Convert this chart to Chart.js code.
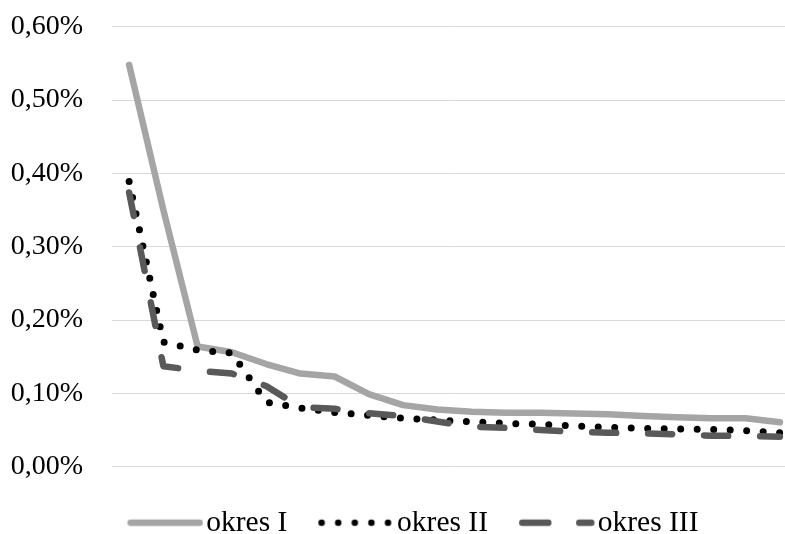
<!DOCTYPE html>
<html>
<head>
<meta charset="utf-8">
<script src="https://cdn.jsdelivr.net/npm/chart.js@4/dist/chart.umd.min.js"></script>
<style>
  html, body { margin: 0; padding: 0; background: #ffffff; overflow: hidden; }
  #wrap { width: 797px; height: 534px; }
</style>
</head>
<body>
<div id="wrap"><canvas id="c" width="797" height="534"></canvas></div>
<script>
// Categories (unlabelled positions along the horizontal axis)
const categories = ['1', '2', '3', '4', '5', '6', '7', '8', '9', '10',
                    '11', '12', '13', '14', '15', '16', '17', '18', '19', '20'];

// Series values, in percent
const okresI   = [0.548, 0.350, 0.164, 0.156, 0.140, 0.127, 0.123, 0.099, 0.084, 0.078,
                  0.075, 0.0736, 0.0736, 0.0727, 0.0714, 0.069, 0.0673, 0.066, 0.066, 0.0605];
const okresII  = [0.389, 0.170, 0.159, 0.155, 0.088, 0.080, 0.074, 0.070, 0.066, 0.0636,
                  0.0614, 0.059, 0.0578, 0.0555, 0.0537, 0.0523, 0.0514, 0.051, 0.049, 0.0464];
const okresIII = [0.374, 0.137, 0.131, 0.127, 0.110, 0.081, 0.079, 0.073, 0.069, 0.0616,
                  0.0546, 0.053, 0.050, 0.0477, 0.0464, 0.0455, 0.0441, 0.0423, 0.0418, 0.0409];

const seriesNames = ['okres I', 'okres II', 'okres III'];

// Y axis: 0,00% .. 0,60% in steps of 0,10%
const yMin = 0, yMax = 0.6, yStep = 0.1;
const fmtPct = v => v.toFixed(2).replace('.', ',') + '%';

Chart.defaults.font.family = "'Liberation Serif', 'Times New Roman', serif";
Chart.defaults.font.size = 28;
Chart.defaults.color = '#000000';

// line styles for the plot and for the legend samples
const styles = [
  { color: '#A5A5A5', width: 6.5, dash: [],        legendWidth: 6.5, legendDash: [],        order: 3 },
  { color: '#000000', width: 7,   dash: [0, 16.5], legendWidth: 6.5, legendDash: [0, 16.6], order: 2 },
  { color: '#595959', width: 6.5, dash: [24, 32],  legendWidth: 6.5, legendDash: [26, 31],  order: 1 }
];

// legend symbol geometry
const LEG_BOX = 64;          // symbol slot width
const LEG_EXT = 12;          // symbol drawn a little past its slot, close to the text
const LEG_H = 12;

function legendSymbol(st) {
  const cv = document.createElement('canvas');
  cv.width = LEG_BOX + 2 * LEG_EXT;
  cv.height = LEG_H;
  const g = cv.getContext('2d');
  g.strokeStyle = st.color;
  g.lineWidth = st.legendWidth;
  g.lineCap = 'round';
  g.setLineDash(st.legendDash);
  g.beginPath();
  g.moveTo(LEG_EXT + st.legendWidth / 2, LEG_H / 2);
  g.lineTo(LEG_EXT + LEG_BOX + LEG_EXT - st.legendWidth / 2 - 0.5, LEG_H / 2);
  g.stroke();
  return cv;
}
const symbols = styles.map(legendSymbol);

const seriesData = [okresI, okresII, okresIII];

const datasets = seriesData.map((vals, i) => ({
  label: seriesNames[i],
  data: vals,
  borderColor: styles[i].color,
  backgroundColor: styles[i].color,
  borderWidth: styles[i].width,
  borderDash: styles[i].dash,
  borderCapStyle: 'round',
  borderJoinStyle: 'round',
  pointRadius: 0,
  pointHoverRadius: 0,
  tension: 0,
  fill: false,
  order: styles[i].order
}));

// nudges the centred legend row to the right
const legendOffset = {
  id: 'legendOffset',
  afterLayout(chart) {
    const lg = chart.legend;
    if (lg) { lg.left += 9.15; lg.right += 9.15; }
  }
};

new Chart(document.getElementById('c'), {
  type: 'line',
  data: { labels: categories, datasets },
  plugins: [legendOffset],
  options: {
    responsive: false,
    animation: false,
    devicePixelRatio: 1,
    layout: { padding: { top: 26.7, left: 10.7, right: 0, bottom: -13.5 } },
    plugins: {
      tooltip: { enabled: false },
      legend: {
        position: 'bottom',
        align: 'center',
        labels: {
          usePointStyle: true,
          pointStyleWidth: LEG_BOX,
          padding: 31,
          color: '#000000',
          font: { size: 29.5 },
          generateLabels: (chart) => chart.data.datasets.map((ds, i) => ({
            text: ds.label,
            fillStyle: 'rgba(0,0,0,0)',
            strokeStyle: styles[i].color,
            lineWidth: 0,
            pointStyle: symbols[i],
            hidden: !chart.isDatasetVisible(i),
            datasetIndex: i
          }))
        }
      }
    },
    scales: {
      x: {
        type: 'category',
        offset: true,
        ticks: { display: false },
        grid: { display: false, drawTicks: false },
        border: { display: false },
        afterFit: (s) => { s.height = 10.3; }
      },
      y: {
        min: yMin,
        max: yMax,
        ticks: {
          stepSize: yStep,
          padding: 0,
          crossAlign: 'far',
          color: '#000000',
          font: { size: 28 },
          callback: (v) => fmtPct(v)
        },
        grid: { color: '#D9D9D9', lineWidth: 1, drawTicks: false },
        border: { display: false },
        afterFit: (s) => { s.width = 101.3; }
      }
    }
  }
});
</script>
</body>
</html>
